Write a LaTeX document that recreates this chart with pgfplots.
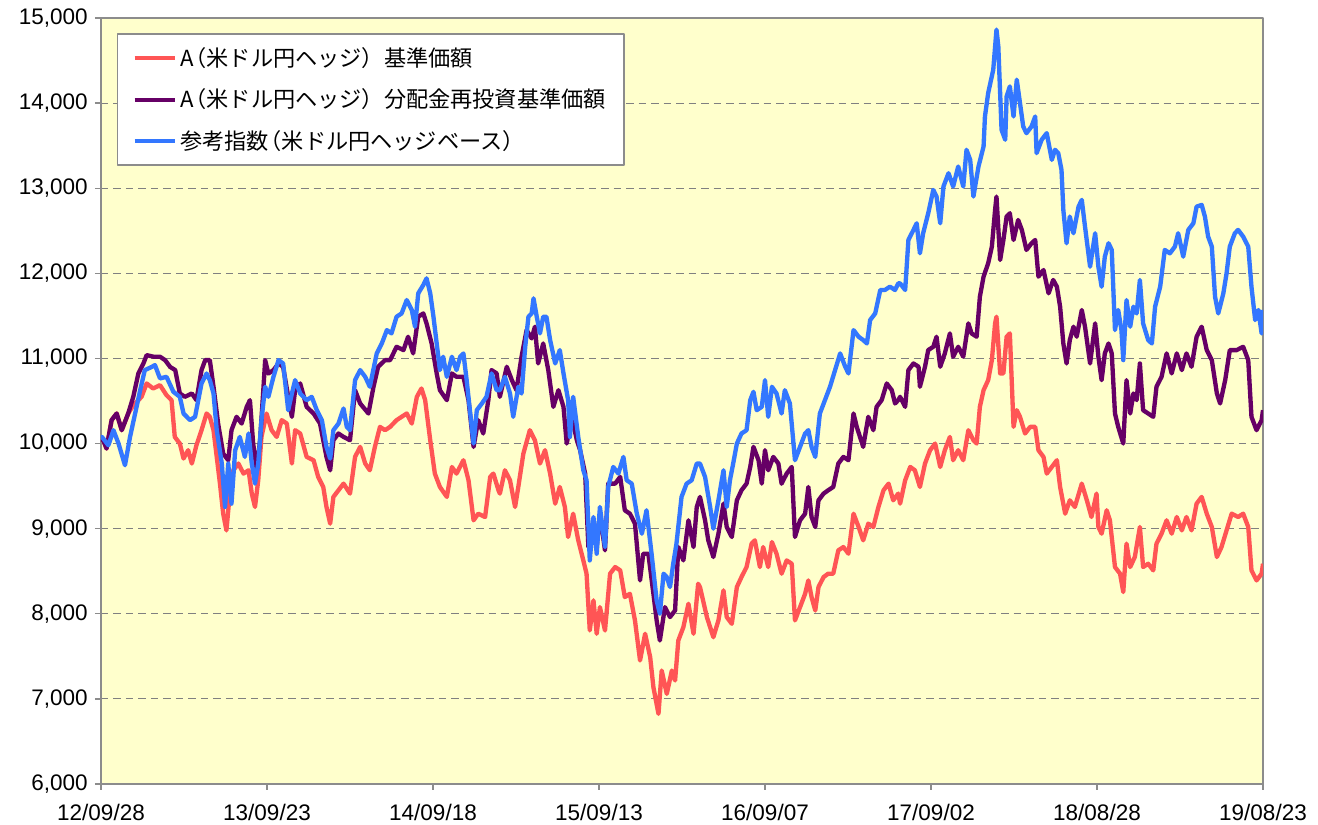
\documentclass[border=0pt]{standalone}
\usepackage{fontspec}
\setmainfont{Liberation Sans}
\newfontfamily\cjk{Noto Sans CJK JP}
\usepackage{graphicx}
\usepackage{pgfplots}
\usepackage{pgfplotstable}
\pgfplotsset{compat=1.18}
\definecolor{bgy}{RGB}{255,255,204}
\definecolor{sred}{RGB}{255,85,85}
\definecolor{spur}{RGB}{102,0,102}
\definecolor{sblue}{RGB}{51,119,255}
\definecolor{axgray}{RGB}{140,140,140}

\pgfplotstableread{
d v
0 10050
5 10039
12 9941
23 10275
34 10353
45 10157
59 10353
70 10449
88 10549
99 10706
113 10647
128 10686
142 10569
153 10510
160 10078
171 10000
179 9824
189 9922
197 9765
207 9980
218 10157
229 10353
236 10314
244 10157
251 9843
258 9529
265 9176
272 8980
280 9451
287 9686
298 9765
309 9647
320 9686
327 9412
334 9255
341 9569
348 10078
359 10353
370 10157
381 10078
392 10275
403 10235
414 9765
421 10157
432 10118
446 9843
461 9804
471 9608
482 9490
489 9255
497 9059
504 9373
515 9451
526 9529
540 9412
551 9843
562 9961
573 9765
583 9686
594 9961
605 10196
616 10157
627 10196
641 10275
652 10314
663 10353
674 10235
685 10549
695 10647
703 10510
714 10039
724 9647
735 9490
750 9373
761 9725
771 9647
786 9804
797 9569
808 9098
818 9176
833 9137
844 9608
851 9647
862 9451
865 9412
876 9686
887 9569
898 9255
905 9490
916 9882
930 10157
941 10039
952 9765
963 9922
974 9647
985 9294
995 9490
1006 9255
1013 8902
1024 9176
1035 8863
1046 8627
1053 8471
1060 7804
1068 8157
1075 7765
1082 8078
1093 7804
1104 8471
1115 8549
1126 8510
1136 8196
1147 8235
1158 7922
1169 7451
1180 7765
1191 7490
1198 7137
1209 6824
1216 7333
1227 7059
1238 7333
1245 7216
1252 7686
1263 7843
1274 8118
1285 7765
1295 8353
1299 8314
1314 7961
1328 7725
1339 7922
1350 8275
1357 7961
1368 7882
1379 8314
1389 8431
1400 8549
1411 8824
1418 8863
1429 8549
1436 8784
1447 8549
1455 8843
1465 8706
1476 8471
1487 8627
1498 8588
1505 7922
1516 8078
1527 8235
1534 8392
1541 8196
1549 8039
1556 8314
1567 8431
1577 8471
1588 8471
1599 8745
1610 8784
1621 8706
1632 9176
1643 9020
1653 8863
1664 9059
1675 9020
1686 9255
1697 9451
1708 9529
1718 9333
1729 9412
1733 9294
1744 9569
1755 9725
1765 9686
1776 9490
1787 9765
1798 9922
1809 10000
1820 9725
1830 9922
1841 10078
1848 9804
1859 9922
1870 9804
1881 10157
1892 10039
1899 10000
1906 10431
1914 10627
1924 10745
1932 10980
1939 11412
1942 11490
1950 10824
1957 10824
1964 11255
1971 11294
1979 10196
1986 10392
1993 10314
2004 10118
2015 10196
2026 10196
2033 9922
2044 9843
2051 9647
2062 9725
2073 9804
2080 9490
2091 9176
2101 9333
2112 9255
2127 9529
2138 9333
2148 9137
2159 9412
2163 9020
2170 8941
2181 9216
2188 9098
2199 8549
2210 8471
2217 8255
2224 8824
2232 8549
2242 8667
2253 9020
2260 8549
2271 8588
2282 8510
2289 8824
2300 8941
2311 9098
2322 8941
2333 9137
2344 8980
2354 9137
2365 8980
2376 9294
2387 9373
2398 9176
2409 9020
2420 8667
2430 8784
2441 8980
2452 9176
2466 9137
2477 9176
2488 9020
2495 8510
2506 8392
2517 8471
2520 8588
}\redtab

\pgfplotstableread{
d v
0 10050
5 10039
12 9941
23 10275
34 10353
45 10157
59 10353
70 10549
81 10823
92 10941
99 11039
114 11020
128 11020
139 10980
150 10900
161 10863
171 10588
182 10549
197 10588
207 10510
218 10863
226 10980
236 10980
244 10667
254 10235
265 9882
276 9804
283 10157
294 10314
305 10235
316 10431
323 10510
330 10000
338 9686
345 10039
352 10627
356 10980
363 10823
374 10863
385 10941
395 10900
406 10549
414 10314
421 10627
432 10706
446 10431
461 10353
475 10235
489 9843
497 9686
504 10039
515 10118
526 10078
540 10039
551 10627
562 10471
580 10353
591 10667
601 10902
616 10980
627 10980
641 11137
656 11098
666 11255
677 11059
688 11490
699 11529
706 11412
717 11176
728 10824
735 10627
750 10510
761 10824
771 10784
786 10784
797 10510
808 9961
818 10275
829 10118
840 10510
847 10863
858 10824
865 10549
880 10902
891 10745
901 10627
912 11020
923 11333
934 11235
941 11373
948 10941
959 11176
970 10863
981 10431
992 10627
1003 10431
1010 10000
1021 10314
1032 10039
1039 9922
1050 9647
1057 8784
1068 9098
1075 8784
1082 9176
1093 8745
1100 9529
1115 9529
1126 9608
1136 9216
1147 9176
1158 9059
1169 8392
1176 8706
1187 8706
1198 8235
1205 7922
1212 7686
1223 8078
1234 7961
1245 8039
1252 8784
1263 8627
1274 9098
1285 8784
1292 9255
1299 9373
1310 9098
1317 8863
1328 8667
1339 8941
1350 9294
1357 9020
1368 8902
1379 9333
1389 9451
1400 9529
1408 9725
1415 9961
1426 9804
1433 9529
1440 9922
1447 9686
1458 9843
1469 9765
1476 9529
1487 9647
1498 9725
1505 8902
1516 9098
1527 9176
1534 9490
1541 9137
1549 9020
1556 9333
1567 9412
1577 9451
1588 9490
1599 9765
1610 9843
1621 9804
1632 10353
1639 10196
1646 10078
1653 9961
1664 10314
1675 10157
1682 10431
1693 10510
1704 10706
1715 10627
1722 10471
1729 10510
1733 10549
1744 10431
1751 10863
1762 10941
1773 10902
1776 10667
1787 10902
1794 11098
1805 11137
1812 11255
1820 10902
1830 11059
1841 11294
1848 11020
1859 11137
1870 11020
1881 11412
1888 11294
1899 11255
1906 11725
1914 11961
1924 12118
1932 12314
1939 12745
1942 12902
1950 12157
1957 12392
1964 12667
1971 12706
1979 12392
1989 12627
1997 12510
2007 12275
2018 12353
2026 12392
2033 11961
2044 12039
2055 11765
2065 11922
2073 11843
2080 11608
2087 11176
2094 10941
2101 11216
2109 11373
2116 11255
2127 11569
2134 11373
2145 10941
2156 11412
2163 11020
2170 10745
2177 11059
2185 11176
2192 11059
2199 10353
2206 10196
2217 10000
2224 10745
2232 10353
2239 10588
2246 10510
2253 10941
2260 10392
2271 10353
2282 10314
2289 10667
2300 10784
2311 11059
2322 10824
2333 11059
2344 10863
2354 11059
2365 10902
2376 11255
2387 11373
2398 11098
2409 10980
2420 10588
2427 10471
2438 10745
2448 11098
2463 11098
2477 11137
2488 10980
2495 10314
2506 10157
2517 10275
2520 10392
}\purtab

\pgfplotstableread{
d v
0 10060
2 10078
16 9980
27 10157
38 10000
52 9745
63 10078
74 10353
85 10627
95 10863
110 10900
117 10922
128 10765
142 10784
157 10608
171 10549
179 10353
193 10275
204 10314
218 10706
229 10823
236 10745
244 10588
251 10157
262 9765
269 9255
276 9765
283 9294
291 9922
301 10078
312 9843
320 10118
327 9765
334 9529
341 9765
348 10275
356 10667
363 10549
374 10784
385 10980
395 10941
406 10392
414 10588
421 10745
432 10588
446 10510
457 10549
468 10392
479 10275
489 9961
497 9824
504 10157
515 10235
526 10412
533 10196
540 10157
551 10745
562 10863
573 10784
583 10667
598 11059
609 11176
620 11333
630 11294
641 11490
652 11529
663 11686
674 11569
681 11373
688 11765
699 11863
706 11941
714 11765
721 11490
728 11176
735 10863
742 11020
750 10784
761 11020
771 10863
779 11020
786 11059
793 10745
800 10392
808 10000
815 10392
826 10471
836 10549
847 10824
858 10627
865 10627
876 10784
887 10588
894 10314
905 10667
912 10588
920 11137
927 11490
934 11529
938 11706
945 11490
952 11294
959 11490
966 11490
974 11216
985 10941
995 11098
1003 10824
1013 10510
1017 10078
1024 10549
1035 10078
1046 9686
1053 9569
1060 8627
1068 9137
1075 8706
1082 9255
1093 8784
1100 9490
1111 9725
1122 9647
1133 9843
1140 9569
1151 9529
1162 9176
1173 8941
1183 9216
1194 8706
1205 8157
1212 8000
1220 8471
1227 8431
1234 8314
1241 8588
1248 8824
1259 9373
1270 9529
1281 9569
1292 9765
1299 9765
1310 9608
1321 9255
1328 9000
1339 9333
1350 9686
1357 9255
1364 9569
1371 9765
1379 10000
1389 10118
1400 10157
1408 10510
1415 10608
1422 10392
1433 10431
1440 10745
1447 10314
1455 10667
1465 10588
1476 10353
1483 10627
1494 10471
1505 9804
1516 9961
1527 10118
1534 10157
1541 9961
1549 9843
1559 10353
1570 10510
1581 10667
1592 10863
1603 11059
1614 10902
1621 10824
1632 11333
1643 11255
1653 11216
1661 11176
1668 11451
1679 11529
1690 11804
1700 11804
1711 11843
1722 11804
1729 11882
1733 11882
1744 11804
1751 12392
1762 12510
1769 12588
1776 12235
1783 12471
1794 12706
1805 12980
1812 12902
1820 12588
1827 13020
1838 13176
1848 13020
1859 13255
1870 13020
1877 13451
1885 13333
1892 12902
1903 13255
1914 13490
1917 13843
1924 14118
1935 14392
1942 14863
1946 14667
1953 13686
1961 13569
1964 14078
1971 14196
1979 13843
1986 14275
1993 14000
2000 13725
2007 13647
2018 13725
2026 13843
2029 13412
2040 13569
2051 13647
2062 13333
2069 13451
2076 13412
2083 13216
2087 12745
2094 12353
2101 12667
2109 12471
2120 12784
2127 12863
2134 12549
2145 12078
2156 12471
2163 12078
2170 11843
2177 12196
2185 12353
2192 12275
2199 11333
2206 11569
2213 11333
2217 10980
2224 11686
2232 11373
2239 11608
2246 11529
2253 11922
2260 11412
2271 11216
2279 11176
2286 11608
2297 11843
2307 12275
2318 12235
2329 12314
2336 12471
2347 12196
2358 12510
2369 12588
2376 12784
2387 12804
2394 12667
2401 12431
2409 12314
2416 11725
2423 11529
2434 11765
2441 12000
2448 12314
2459 12471
2466 12510
2477 12431
2488 12314
2495 11843
2503 11451
2510 11569
2517 11294
2520 11569
}\bluetab

\begin{document}
\begin{tikzpicture}
\begin{axis}[
  at={(0pt,0pt)}, anchor=south west,
  scale only axis,
  width=697.2pt, height=459.6pt,
  xmin=0, xmax=2520, ymin=6000, ymax=15000,
  axis background/.style={fill=bgy},
  axis line style={draw=axgray, line width=1.2pt},
  xtick={0,360,720,1080,1440,1800,2160,2520},
  xticklabels={12/09/28,13/09/23,14/09/18,15/09/13,16/09/07,17/09/02,18/08/28,19/08/23},
  ytick={6000,7000,8000,9000,10000,11000,12000,13000,14000,15000},
  yticklabels={6{,}000,7{,}000,8{,}000,9{,}000,10{,}000,11{,}000,12{,}000,13{,}000,14{,}000,15{,}000},
  tick align=outside,
  major tick length=3.6pt,
  tick style={draw=axgray, line width=0.8pt},
  xtick pos=bottom, ytick pos=left,
  ymajorgrids,
  grid style={draw=gray, dash pattern=on 4.5pt off 3pt, line width=0.7pt},
  ticklabel style={font=\fontsize{13.5}{15}\selectfont, inner sep=0pt},
  yticklabel style={xshift=-4.2pt},
  xticklabel style={yshift=-8.5pt},
  legend style={at={(0.0138,0.980)}, anchor=north west, draw=axgray, fill=white,
    line width=0.8pt,
    font=\cjk\fontsize{13.3}{15}\selectfont, row sep=8pt,
    inner xsep=9pt, inner ysep=6pt, cells={anchor=west}},
  legend image code/.code={\draw[#1, line width=2.4pt] (0pt,0pt) -- (24pt,0pt);},
  line join=round,
]
\addplot[sred, line width=2.6pt] table[x=d, y=v] {\redtab};
\addlegendentry{A\kern-0.4em（米ドル円ヘッジ）基準価額}
\addplot[spur, line width=2.6pt] table[x=d, y=v] {\purtab};
\addlegendentry{A\kern-0.4em（米ドル円ヘッジ）分配金再投資基準価額}
\addplot[sblue, line width=2.6pt] table[x=d, y=v] {\bluetab};
\addlegendentry{参考指数\kern-0.4em（米ドル円ヘッジベース）}
\node[font=\cjk\fontsize{11}{12}\selectfont] at (axis description cs:-0.0327,0.962) {（円）};
\end{axis}
\pgfresetboundingbox
\path[use as bounding box] (-60.6pt,-24.6pt) rectangle (730.2pt,470.4pt);
\end{tikzpicture}
\end{document}
